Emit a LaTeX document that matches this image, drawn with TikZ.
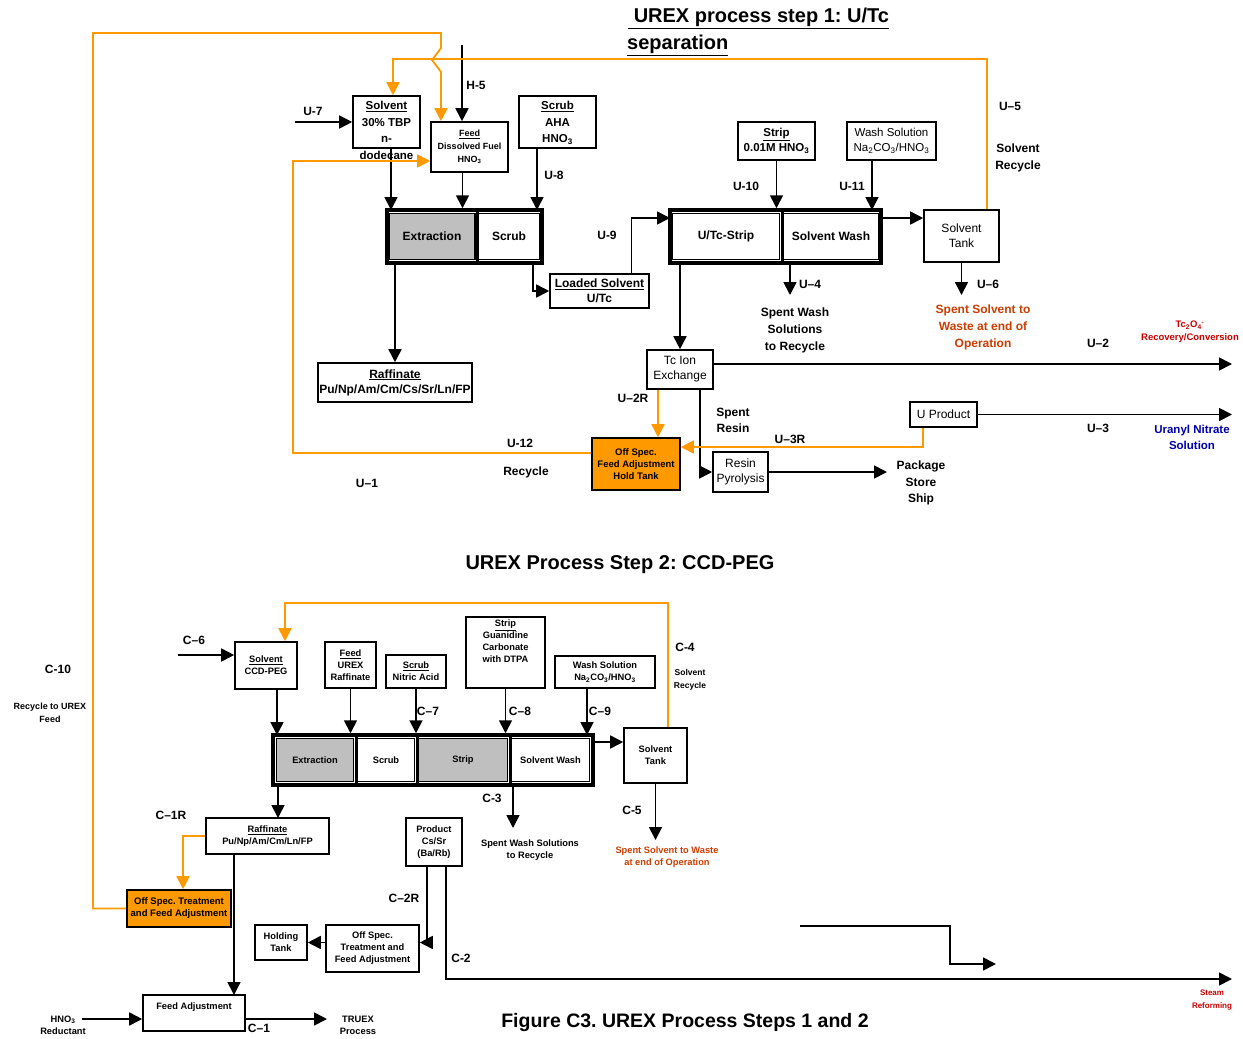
\documentclass[tikz,border=0pt]{standalone}
\usepackage{fontspec}
\setmainfont{Liberation Sans}
\usepackage{xcolor}
\usepackage{tikz}
\usetikzlibrary{arrows.meta}
\definecolor{specOrange}{RGB}{255,153,0}
\definecolor{wasteRed}{RGB}{204,60,0}
\definecolor{tcRed}{RGB}{200,0,0}
\definecolor{uBlue}{RGB}{0,0,170}
\frenchspacing

\begin{document}
\begin{tikzpicture}[
  x=1pt, y=-1pt,
  font=\bfseries\fontsize{12}{15}\selectfont,
  blk/.style={draw, line width=1.6pt, fill=white, align=center, inner sep=1pt},
  offblk/.style={blk, fill=specOrange},
  outerblk/.style={draw, line width=3.5pt, inner sep=0pt},
  cell/.style={draw, line width=1.1pt, align=center, inner sep=0pt},
  divider/.style={line width=3pt},
  smalltxt/.style={font=\bfseries\fontsize{9.3}{12}\selectfont},
  plaintxt/.style={font=\mdseries\fontsize{12}{15}\selectfont},
  lbl/.style={align=center, inner sep=0pt},
  flow/.style={-{Triangle[length=13pt,width=13pt]}, line width=1.7pt},
  rec/.style={-{Triangle[length=13pt,width=13pt]}, line width=1.8pt, specOrange}
]
\useasboundingbox (0,0) rectangle (1243,1039);

\node[lbl, anchor=west, font=\bfseries\fontsize{20}{24}\selectfont] (title1) at (628,18) {\underline{\ UREX process step 1: U/Tc}};
\node[lbl, anchor=west, font=\bfseries\fontsize{20}{24}\selectfont] (title1b) at (627,45) {\underline{separation}};

\node[blk, minimum width=67pt, minimum height=52pt] (solv) at (386.5,122) {};
\node[lbl, anchor=north, font=\bfseries\fontsize{11.5}{16.5}\selectfont] (solvT) at (386.5,101) {\underline{Solvent}\\30\% TBP\\n-\\dodecane};
\node[blk, minimum width=77pt, minimum height=50pt, font=\bfseries\fontsize{9}{13}\selectfont] (feed1) at (469.5,147) {\underline{Feed}\\Dissolved Fuel\\HNO\textsubscript{3}};
\node[blk, minimum width=77pt, minimum height=52pt] (scrub1) at (557.5,122) {};
\node[lbl, anchor=north, font=\bfseries\fontsize{11.5}{16.5}\selectfont] (scrub1T) at (557.5,101) {\underline{Scrub}\\AHA\\HNO\textsubscript{3}};

\node[outerblk, minimum width=155pt, minimum height=53pt] (blk1) at (464.5,236.5) {};
\node[cell, fill=black!25, minimum width=86pt, minimum height=46pt] (ext1) at (432,236.5) {Extraction};
\node[cell, minimum width=62pt, minimum height=46pt] (scr1) at (509,236.5) {Scrub};
\draw[divider] (blk1.north -| scr1.west) -- (blk1.south -| scr1.west);

\node[blk, minimum width=99pt, minimum height=34pt] (loaded) at (599.5,291) {\underline{Loaded Solvent}\\U/Tc};
\node[blk, minimum width=154pt, minimum height=39pt] (raff1) at (395,382.5) {\underline{Raffinate}\\Pu/Np/Am/Cm/Cs/Sr/Ln/FP};

\node[outerblk, minimum width=211pt, minimum height=53pt] (blk2) at (775.5,236.5) {};
\node[cell, minimum width=107pt, minimum height=46pt] (utc) at (726,236.5) {U/Tc-Strip};
\node[cell, minimum width=95pt, minimum height=46pt] (swash1) at (831,236.5) {Solvent Wash};
\draw[divider] (blk2.north -| swash1.west) -- (blk2.south -| swash1.west);

\node[blk, minimum width=77pt, minimum height=38pt, font=\bfseries\fontsize{11.5}{15}\selectfont] (strip1) at (776.5,141) {\underline{Strip}\\0.01M HNO\textsubscript{3}};
\node[blk, minimum width=89pt, minimum height=38pt, font=\mdseries\fontsize{11.5}{15}\selectfont] (wsol1) at (891.5,141) {Wash Solution\\Na\textsubscript{2}CO\textsubscript{3}/HNO\textsubscript{3}};
\node[blk, minimum width=75pt, minimum height=52pt, plaintxt] (tank1) at (961.5,236) {Solvent\\Tank};
\node[blk, minimum width=66pt, minimum height=39pt, plaintxt] (tcix) at (680,369.5) {Tc Ion\\Exchange};
\node[offblk, minimum width=88pt, minimum height=52pt, font=\bfseries\fontsize{9.5}{12}\selectfont] (hold) at (636,464) {Off Spec.\\Feed Adjustment\\Hold Tank};
\node[blk, minimum width=55pt, minimum height=40pt, plaintxt] (resin) at (740.5,472) {Resin\\Pyrolysis};
\node[blk, minimum width=67pt, minimum height=25pt, plaintxt] (uprod) at (943.5,414.5) {U Product};

\coordinate (u7s) at (295,122);
\coordinate (h5s) at (462,45);
\coordinate (p1a) at (391,210);
\coordinate (p1c) at (537,210);
\coordinate (p1d) at (533,263);
\coordinate (p2in) at (670,218);
\coordinate (p2b) at (872,210);
\coordinate (p2out) at (881,218);
\coordinate (p2c) at (790,263);
\coordinate (u4e) at (790,295);
\coordinate (u6e) at (961.5,295);
\coordinate (u2e) at (1232,364);
\coordinate (u3e) at (1232,414.5);
\coordinate (pkge) at (887,472);
\coordinate (s5) at (393,59);
\coordinate (c12) at (293,161);
\coordinate (c10a) at (93,33);
\coordinate (c10b) at (441,48);
\coordinate (c10c) at (432,60);
\coordinate (c10d) at (441,72);

\draw[flow] (u7s) -- (solv.west);
\draw[flow] (h5s) -- (h5s |- feed1.north);
\draw[flow] (p1a |- solv.south) -- (p1a);
\draw[flow] ([xshift=-7pt]feed1.south) -- ([xshift=-7pt]feed1.south |- blk1.north);
\draw[flow] (p1c |- scrub1.south) -- (p1c);
\draw[flow] (raff1.north |- blk1.south) -- (raff1.north);
\draw[flow] (p1d) |- (loaded.west);
\draw[flow] ([xshift=32pt]loaded.north) |- (p2in);
\draw[flow] (strip1.south) -- (strip1.south |- blk2.north);
\draw[flow] (p2b |- wsol1.south) -- (p2b);
\draw[flow] (p2out) -- (p2out -| tank1.west);
\draw[flow] (tank1.south) -- (u6e);
\draw[flow] (p2c) -- (u4e);
\draw[flow] (tcix.north |- blk2.south) -- (tcix.north);
\draw[flow] (tcix.east |- u2e) -- (u2e);
\draw[flow] ([xshift=20pt]tcix.south) |- (resin.west);
\draw[flow] (resin.east) -- (pkge);
\draw[flow] (uprod.east) -- (u3e);
\draw[rec] ([xshift=-22pt]tcix.south) -- ([xshift=22pt]hold.north);
\draw[rec] ([xshift=-20.5pt]uprod.south) |- ([yshift=17pt]hold.east);
\draw[rec] ([yshift=11pt]hold.west) -| (c12) -- (c12 -| feed1.west);
\draw[rec] ([xshift=25.5pt]tank1.north) |- (s5) -- (s5 |- solv.north);

\node[lbl] (lU7) at (313,111) {U-7};
\node[lbl] (lH5) at (476,85) {H-5};
\node[lbl] (lU8) at (554,175) {U-8};
\node[lbl] (lU9) at (607,235) {U-9};
\node[lbl] (lU10) at (746,186) {U-10};
\node[lbl] (lU11) at (852,186) {U-11};
\node[lbl] (lU5) at (1010,106) {U--5};
\node[lbl, font=\bfseries\fontsize{12}{17}\selectfont] (tSR1) at (1018,158) {Solvent\\Recycle};
\node[lbl] (lU4) at (810,284) {U--4};
\node[lbl] (lU6) at (988,284) {U--6};
\node[lbl, font=\bfseries\fontsize{12}{17}\selectfont] (tWash1) at (795,330) {Spent Wash\\Solutions\\to Recycle};
\node[lbl, text=wasteRed, font=\bfseries\fontsize{12}{17}\selectfont] (tWaste1) at (983,327) {Spent Solvent to\\Waste at end of\\Operation};
\node[lbl] (lU2) at (1098,343) {U--2};
\node[lbl, text=tcRed, font=\bfseries\fontsize{9.5}{13}\selectfont] (tTc) at (1190,332) {Tc\textsubscript{2}O\textsubscript{4}\textsuperscript{-}\\Recovery/Conversion};
\node[lbl] (lU2R) at (633,398) {U--2R};
\node[lbl, font=\bfseries\fontsize{12}{16}\selectfont] (tResin) at (733,420) {Spent\\Resin};
\node[lbl] (lU3R) at (790,439) {U--3R};
\node[lbl] (lU12) at (520,443) {U-12};
\node[lbl] (tRec1) at (526,472) {Recycle};
\node[lbl] (lU1) at (367,483) {U--1};
\node[lbl] (lU3) at (1098,428) {U--3};
\node[lbl, text=uBlue, font=\bfseries\fontsize{11.5}{16}\selectfont] (tUNS) at (1192,437) {Uranyl Nitrate\\Solution};
\node[lbl, font=\bfseries\fontsize{12}{16.5}\selectfont] (tPkg) at (921,483) {Package\\Store\\Ship};

\node[lbl, font=\bfseries\fontsize{20}{24}\selectfont] (title2) at (620,565) {UREX Process Step 2: CCD-PEG};

\node[blk, minimum width=62pt, minimum height=47pt, smalltxt] (solv2) at (266,665.5) {\underline{Solvent}\\CCD-PEG};
\node[blk, minimum width=51pt, minimum height=46pt, smalltxt] (feed2) at (350.5,665) {\underline{Feed}\\UREX\\Raffinate};
\node[blk, minimum width=60pt, minimum height=33pt, smalltxt] (scrub2) at (416,671.5) {\underline{Scrub}\\Nitric Acid};
\node[blk, minimum width=79pt, minimum height=71pt] (strip2) at (505.5,652.5) {};
\node[lbl, anchor=north, smalltxt] (strip2T) at (505.5,620) {\underline{Strip}\\Guanidine\\Carbonate\\with DTPA};
\node[blk, minimum width=100pt, minimum height=32pt, smalltxt] (wash2) at (605,672) {Wash Solution\\Na\textsubscript{2}CO\textsubscript{3}/HNO\textsubscript{3}};

\node[outerblk, minimum width=320pt, minimum height=50pt] (blk3) at (433,760) {};
\node[cell, fill=black!25, minimum width=77pt, minimum height=43pt, smalltxt] (ext2) at (315,760) {Extraction};
\node[cell, minimum width=57pt, minimum height=43pt, smalltxt] (scr2) at (386,760) {Scrub};
\node[cell, fill=black!25, minimum width=89pt, minimum height=43pt, smalltxt] (strp2) at (463,760) {Strip};
\node[cell, minimum width=78pt, minimum height=43pt, smalltxt] (sw2) at (550.5,760) {Solvent Wash};
\draw[divider] (blk3.north -| scr2.west) -- (blk3.south -| scr2.west);
\draw[divider] (blk3.north -| strp2.west) -- (blk3.south -| strp2.west);
\draw[divider] (blk3.north -| sw2.west) -- (blk3.south -| sw2.west);

\node[blk, minimum width=63pt, minimum height=55pt, smalltxt] (tank2) at (655.5,755.5) {Solvent\\Tank};
\node[blk, minimum width=123pt, minimum height=36pt, smalltxt] (raff2) at (267.5,836) {\underline{Raffinate}\\Pu/Np/Am/Cm/Ln/FP};
\node[offblk, minimum width=104pt, minimum height=37pt, font=\bfseries\fontsize{9.5}{12}\selectfont] (offsp) at (179,908.5) {Off Spec. Treatment\\and Feed Adjustment};
\node[blk, minimum width=56pt, minimum height=48pt, smalltxt] (prod) at (434,842) {Product\\Cs/Sr\\(Ba/Rb)};
\node[blk, minimum width=93pt, minimum height=47pt, smalltxt] (offsp2) at (372.5,948.5) {Off Spec.\\Treatment and\\Feed Adjustment};
\node[blk, minimum width=52pt, minimum height=35pt, smalltxt] (htank) at (281,942.5) {Holding\\Tank};
\node[blk, minimum width=102pt, minimum height=36pt] (fadj) at (194,1013) {};
\node[lbl, smalltxt] (fadjT) at (194,1007) {Feed Adjustment};

\coordinate (c6s) at (178,655);
\coordinate (q1) at (277,735);
\coordinate (q5) at (587,735);
\coordinate (q6) at (593,742);
\coordinate (c5e) at (655.5,840);
\coordinate (c3e) at (513,828);
\coordinate (r2in) at (278,818);
\coordinate (fa) at (234,995);
\coordinate (hno) at (82,1019);
\coordinate (c1e) at (327,1019);
\coordinate (c2e) at (1232,979);
\coordinate (s4) at (285,603);
\coordinate (aux1) at (800,926);
\coordinate (aux2) at (950,964);
\coordinate (aux3) at (996,964);

\draw[flow] (c6s) -- (c6s -| solv2.west);
\draw[flow] (q1 |- solv2.south) -- (q1);
\draw[flow] (feed2.south) -- (feed2.south |- blk3.north);
\draw[flow] (scrub2.south) -- (scrub2.south |- blk3.north);
\draw[flow] (strip2.south) -- (strip2.south |- blk3.north);
\draw[flow] (q5 |- wash2.south) -- (q5);
\draw[flow] (q6) -- (q6 -| tank2.west);
\draw[flow] (tank2.south) -- (c5e);
\draw[flow] (c3e |- blk3.south) -- (c3e);
\draw[flow] (r2in |- blk3.south) -- (r2in);
\draw[flow] (fa |- raff2.south) -- (fa);
\draw[flow] (hno) -- (hno -| fadj.west);
\draw[flow] (c1e -| fadj.east) -- (c1e);
\draw[flow] ([xshift=-7pt]prod.south) |- ([yshift=6pt]offsp2.east);
\draw[flow] (offsp2.west |- htank.east) -- (htank.east);
\draw[flow] ([xshift=12pt]prod.south) |- (c2e);
\draw[flow] (aux1) -| (aux2) -- (aux3);
\draw[rec] ([xshift=12.5pt]tank2.north) |- (s4) -- (s4 |- solv2.north);
\draw[rec] (raff2.west) -| ([xshift=4pt]offsp.north);
\draw[rec] (offsp.west) -| (c10a) -| (c10b) -- (c10c) -- (c10d) -- (c10d |- feed1.north);

\node[lbl] (lC6) at (194,640) {C--6};
\node[lbl] (lC4) at (685,647) {C-4};
\node[lbl, font=\bfseries\fontsize{8.5}{13}\selectfont] (tSR2) at (690,680) {Solvent\\Recycle};
\node[lbl] (lC7) at (428,711) {C--7};
\node[lbl] (lC8) at (520,711) {C--8};
\node[lbl] (lC9) at (600,711) {C--9};
\node[lbl] (lC10) at (58,669) {C-10};
\node[lbl, font=\bfseries\fontsize{9}{13}\selectfont] (tRU) at (50,713) {Recycle to UREX\\Feed};
\node[lbl] (lC3) at (492,798) {C-3};
\node[lbl] (lC5) at (632,810) {C-5};
\node[lbl] (lC1R) at (171,815) {C--1R};
\node[lbl, smalltxt] (tWash2) at (530,850) {Spent Wash Solutions\\to Recycle};
\node[lbl, smalltxt, text=wasteRed] (tWaste2) at (667,857) {Spent Solvent to Waste\\at end of Operation};
\node[lbl] (lC2R) at (404,898) {C--2R};
\node[lbl] (lC2) at (461,958) {C-2};
\node[lbl, text=tcRed, font=\bfseries\fontsize{8}{13}\selectfont] (tSteam) at (1212,1000) {Steam\\Reforming};
\node[lbl, smalltxt] (tHNO) at (63,1025) {HNO\textsubscript{3}\\Reductant};
\node[lbl] (lC1) at (259,1028) {C--1};
\node[lbl, smalltxt] (tTRUEX) at (358,1025) {TRUEX\\Process};
\node[lbl, font=\bfseries\fontsize{19.5}{23}\selectfont] (caption) at (685,1022) {Figure C3. UREX Process Steps 1 and 2};

\end{tikzpicture}
\end{document}
